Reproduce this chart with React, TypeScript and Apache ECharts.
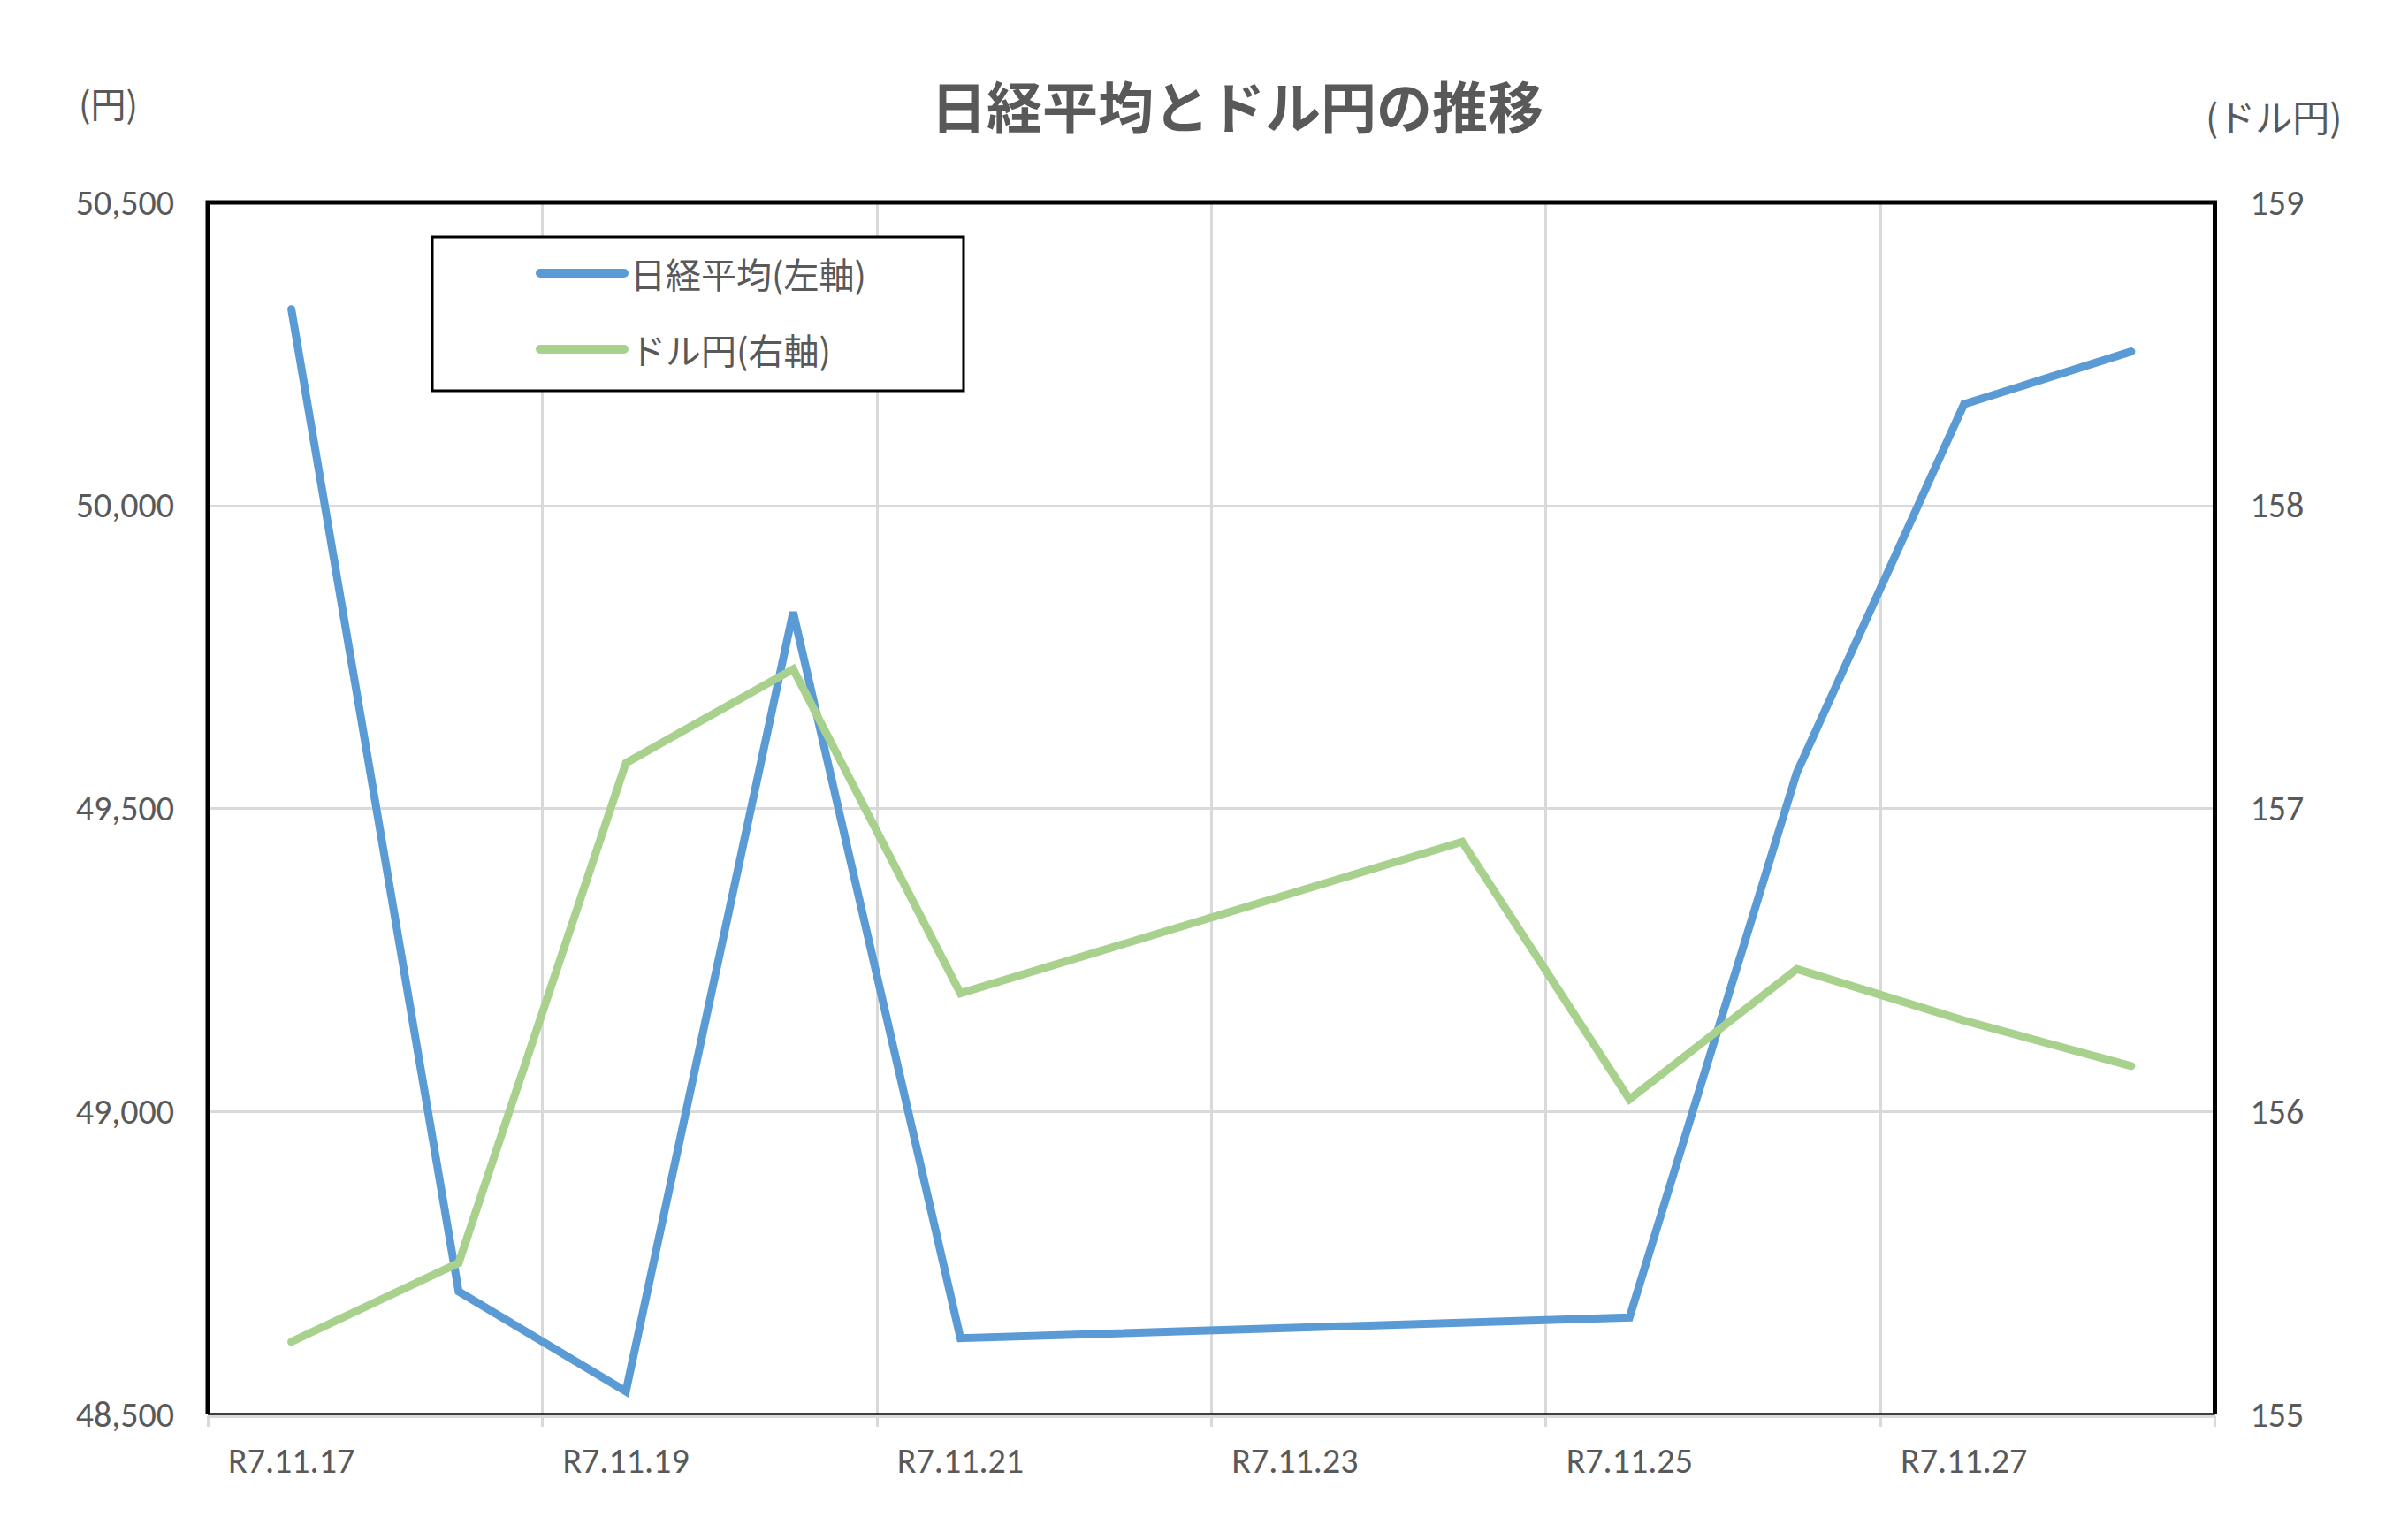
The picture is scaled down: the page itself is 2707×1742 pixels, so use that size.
import React, { useEffect, useRef } from "react";
import * as echarts from "echarts";

// trading days R7.11.17 - R7.11.28 (weekend / holiday left empty)
const dates = [
  "R7.11.17",
  "R7.11.18",
  "R7.11.19",
  "R7.11.20",
  "R7.11.21",
  "R7.11.22",
  "R7.11.23",
  "R7.11.24",
  "R7.11.25",
  "R7.11.26",
  "R7.11.27",
  "R7.11.28",
];
const nikkei = [50324, 48703, 48538, 49824, 48626, null, null, null, 48660, 49559, 50167, 50254];
const usdJpy = [155.24, 155.5, 157.15, 157.46, 156.39, null, null, 156.89, 156.04, 156.47, 156.3, 156.15];

const leftAxis = { min: 48500, max: 50500, interval: 500 };
const rightAxis = { min: 155, max: 159, interval: 1 };

const seriesNames = ["日経平均(左軸)", "ドル円(右軸)"];
const seriesColors = ["#5B9BD5", "#A9D18E"];

const numFont = "'Liberation Sans Narrow', Carlito, 'Noto Sans CJK JP', sans-serif";
const jpFont = "'Noto Sans CJK JP', sans-serif";
const textColor = "#595959";
const gridColor = "#D9D9D9";

// plot area
const plot = { left: 235, top: 229, right: 2505.5, bottom: 1600 };

const App: React.FC = () => {
  const chartRef = useRef<HTMLDivElement>(null);

  useEffect(() => {
    if (!chartRef.current) return;
    const chart = echarts.init(chartRef.current, undefined, { renderer: "svg" });

    const option = {
      animation: false,
      backgroundColor: "#fff",
      title: {
        text: "日経平均とドル円の推移",
        left: 1053,
        top: 86,
        padding: 0,
        textStyle: {
          fontFamily: jpFont,
          fontSize: 63,
          fontWeight: "bold",
          color: textColor,
        },
      },
      graphic: [
        {
          type: "text",
          left: 89,
          top: 96,
          style: { text: "(円)", font: `40px ${jpFont}`, fill: textColor },
        },
        {
          type: "text",
          left: 2495,
          top: 109,
          style: { text: "(ドル円)", font: `42px ${jpFont}`, fill: textColor },
        },
        {
          type: "rect",
          shape: { x: 489, y: 268, width: 601, height: 174 },
          style: { fill: "#fff", stroke: "#000", lineWidth: 3 },
          z: 5,
        },
        {
          type: "polyline",
          shape: {
            points: [
              [plot.left, plot.bottom],
              [plot.left, plot.top],
              [plot.right, plot.top],
              [plot.right, plot.bottom],
            ],
          },
          style: { stroke: "#000", lineWidth: 5, fill: "none" },
          z: 100,
        },
        {
          type: "line",
          shape: { x1: plot.left, y1: plot.bottom - 0.5, x2: plot.right, y2: plot.bottom - 0.5 },
          style: { stroke: "#000", lineWidth: 2.5 },
          z: 100,
        },
      ],
      legend: {
        data: seriesNames,
        orient: "vertical",
        left: 606,
        top: 289,
        padding: 0,
        itemWidth: 95,
        itemHeight: 40,
        itemGap: 46,
        z: 10,
        itemStyle: { opacity: 0 },
        lineStyle: { width: 10, cap: "round" },
        textStyle: {
          fontFamily: jpFont,
          fontSize: 40,
          lineHeight: 40,
          color: textColor,
          padding: [0, 0, 0, 2],
        },
      },
      grid: {
        left: plot.left,
        right: 2707 - plot.right,
        top: plot.top,
        bottom: 1742 - plot.bottom,
        show: false,
      },
      xAxis: {
        type: "category",
        data: dates,
        boundaryGap: true,
        offset: 2,
        axisLine: { show: true, lineStyle: { color: gridColor, width: 3 } },
        axisTick: { show: true, interval: 1, length: 12, lineStyle: { color: gridColor, width: 3 } },
        axisLabel: {
          interval: 1,
          margin: 30,
          fontFamily: numFont,
          fontSize: 40,
          color: textColor,
        },
        splitLine: {
          show: true,
          interval: 1,
          showMinLine: false,
          showMaxLine: false,
          lineStyle: { color: gridColor, width: 3 },
        },
      },
      yAxis: [
        {
          type: "value",
          ...leftAxis,
          axisLine: { show: false },
          axisTick: { show: false },
          axisLabel: {
            margin: 38,
            fontFamily: numFont,
            fontSize: 40,
            color: textColor,
            formatter: (v: number) => v.toLocaleString("en-US"),
          },
          splitLine: {
            show: true,
            showMinLine: false,
            showMaxLine: false,
            lineStyle: { color: gridColor, width: 3 },
          },
        },
        {
          type: "value",
          position: "right",
          ...rightAxis,
          axisLine: { show: false },
          axisTick: { show: false },
          axisLabel: {
            margin: 40,
            fontFamily: numFont,
            fontSize: 40,
            color: textColor,
          },
          splitLine: { show: false },
        },
      ],
      series: [
        {
          name: seriesNames[0],
          type: "line",
          yAxisIndex: 0,
          data: nikkei,
          connectNulls: true,
          symbol: "none",
          color: seriesColors[0],
          lineStyle: { width: 9, color: seriesColors[0], cap: "round", join: "miter" },
        },
        {
          name: seriesNames[1],
          type: "line",
          yAxisIndex: 1,
          data: usdJpy,
          connectNulls: true,
          symbol: "none",
          color: seriesColors[1],
          lineStyle: { width: 9, color: seriesColors[1], cap: "round", join: "miter" },
        },
      ],
    };

    chart.setOption(option);

    return () => {
      chart.dispose();
    };
  }, []);

  return (
    <div
      ref={chartRef}
      style={{ position: "fixed", left: 0, top: 0, width: 2707, height: 1742 }}
    />
  );
};

export default App;
